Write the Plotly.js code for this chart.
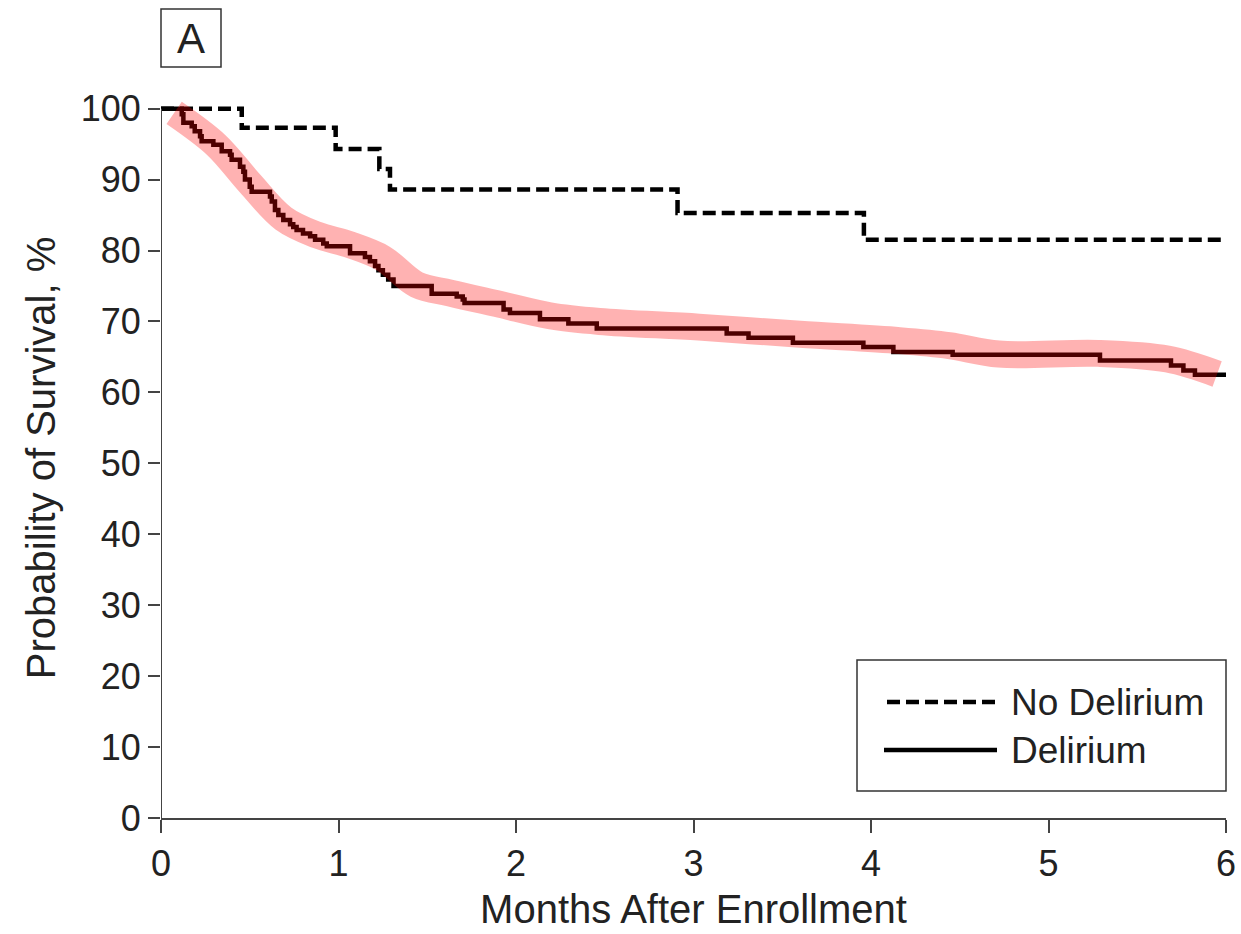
<!DOCTYPE html>
<html>
<head>
<meta charset="utf-8">
<script src="https://cdn.plot.ly/plotly-3.0.1.min.js"></script>
<style>html,body{margin:0;padding:0;background:#fff;}#chart{width:1241px;height:934px;}</style>
</head>
<body>
<div id="chart"></div>
<script>
// ---- Data ----
const noDelTime = [0, 0.455, 0.984, 1.23, 1.29, 2.91, 3.96, 6.0];
const noDelSurv = [100, 97.3, 94.3, 91.5, 88.6, 85.3, 81.5, 81.5];

const delTime = [0, 0.117, 0.126, 0.173, 0.19, 0.22, 0.229, 0.295, 0.342, 0.389, 0.398, 0.445, 0.464, 0.473, 0.50, 0.511,
  0.614, 0.624, 0.642, 0.661, 0.689, 0.727, 0.745, 0.764, 0.80, 0.84, 0.868, 0.914, 0.934, 1.065, 1.149, 1.177, 1.206,
  1.225, 1.25, 1.28, 1.31, 1.525, 1.666, 1.70, 1.71, 1.93, 1.966, 2.135, 2.295, 2.455, 3.187, 3.31, 3.56, 3.957, 4.126,
  4.46, 5.29, 5.69, 5.76, 5.825, 6.0];
const delSurv = [100, 99.2, 98.0, 97.5, 96.8, 96.1, 95.4, 94.9, 94.0, 93.5, 92.8, 91.8, 91.1, 90.0, 89.0, 88.3,
  87.6, 86.9, 85.7, 85.0, 84.3, 83.7, 83.3, 82.9, 82.4, 82.0, 81.5, 81.0, 80.6, 79.6, 79.1, 78.5, 77.8,
  77.2, 76.6, 75.9, 75.0, 73.9, 73.5, 73.1, 72.6, 71.7, 71.2, 70.3, 69.7, 69.0, 68.3, 67.7, 67.0, 66.4, 65.7,
  65.3, 64.5, 63.8, 63.1, 62.5, 62.5];

// smoothed confidence band (centre line of the shaded ribbon)
const bandTime = [0.074, 0.31, 0.50, 0.69, 0.877, 1.065, 1.25, 1.44, 1.63, 1.91, 2.19, 2.47, 3.03, 3.6, 4.16, 4.44, 4.72, 5.28, 5.67, 5.95];
const bandSurv = [99.4, 94.9, 89.5, 84.5, 82.2, 80.8, 78.9, 75.2, 74.0, 72.4, 70.8, 70.0, 69.2, 68.2, 67.3, 66.6, 65.4, 65.5, 64.7, 62.6];

const xTickVals = [0, 1, 2, 3, 4, 5, 6];
const yTickVals = [0, 10, 20, 30, 40, 50, 60, 70, 80, 90, 100];
const seriesNames = ["No Delirium", "Delirium"];
const panelLabel = "A";

// ---- Styling ----
const FONT = "Liberation Sans, Arial, Helvetica, sans-serif";
const TXT = "#222222";
const AX = "#444444";

const traces = [
  {x: noDelTime, y: noDelSurv, mode: "lines", line: {shape: "hv", color: "#000", width: 4.5, dash: "13px,6px"},
   name: seriesNames[0], showlegend: false, hoverinfo: "skip"},
  {x: delTime, y: delSurv, mode: "lines", line: {shape: "hv", color: "#000", width: 4.5},
   name: seriesNames[1], showlegend: false, hoverinfo: "skip"},
  {x: bandTime, y: bandSurv, mode: "lines", line: {shape: "spline", smoothing: 1.0, color: "rgba(255,0,0,0.3)", width: 27},
   showlegend: false, hoverinfo: "skip"}
];

// pixel -> paper helpers for legend/label decorations
const L = 161, T = 98, W = 1065, H = 720;
const px = v => (v - L) / W;
const py = v => (T + H - v) / H;

const layout = {
  width: 1241, height: 934,
  margin: {l: L, r: 1241 - L - W, t: T, b: 934 - T - H},
  paper_bgcolor: "#fff", plot_bgcolor: "#fff",
  font: {family: FONT, color: TXT, size: 36},
  showlegend: false,
  xaxis: {
    range: [0, 6], tickvals: xTickVals, ticktext: xTickVals.map(String),
    showline: true, linecolor: AX, linewidth: 2, mirror: false,
    ticks: "outside", ticklen: 13, tickwidth: 2, tickcolor: AX,
    showgrid: false, zeroline: false,
    tickfont: {size: 36, color: TXT},
    title: {text: "Months After Enrollment", font: {size: 40, color: TXT}, standoff: 12}
  },
  yaxis: {
    range: [0, 101.5], tickvals: yTickVals, ticktext: yTickVals.map(String),
    showline: false,
    ticks: "outside", ticklen: 12, tickwidth: 2, tickcolor: AX,
    showgrid: false, zeroline: false,
    tickfont: {size: 36, color: TXT},
    title: {text: "Probability of Survival, %", font: {size: 40, color: TXT}, standoff: 12}
  },
  shapes: [
    // y axis line from 0 to 100
    {type: "line", xref: "x", yref: "y", x0: 0, x1: 0, y0: 0, y1: 100, line: {color: AX, width: 2}},
    // panel label box
    {type: "rect", xref: "paper", yref: "paper", x0: px(161), x1: px(221), y0: py(67), y1: py(9),
     line: {color: "#333", width: 1.5}, fillcolor: "rgba(0,0,0,0)"},
    // legend box
    {type: "rect", xref: "paper", yref: "paper", x0: px(857), x1: px(1226), y0: py(791), y1: py(660),
     line: {color: "#333", width: 1.5}, fillcolor: "#fff"},
    {type: "line", xref: "paper", yref: "paper", x0: px(887), x1: px(997), y0: py(702), y1: py(702),
     line: {color: "#000", width: 4.5, dash: "13px,6px"}},
    {type: "line", xref: "paper", yref: "paper", x0: px(884), x1: px(997), y0: py(750), y1: py(750),
     line: {color: "#000", width: 4.5}}
  ],
  annotations: [
    {text: panelLabel, xref: "paper", yref: "paper", x: px(191), y: py(38), xanchor: "center", yanchor: "middle",
     showarrow: false, font: {size: 42, color: TXT}},
    {text: seriesNames[0], xref: "paper", yref: "paper", x: px(1009), y: py(702), xanchor: "left", yanchor: "middle",
     showarrow: false, font: {size: 37, color: TXT}},
    {text: seriesNames[1], xref: "paper", yref: "paper", x: px(1009), y: py(750), xanchor: "left", yanchor: "middle",
     showarrow: false, font: {size: 37, color: TXT}}
  ]
};

Plotly.newPlot("chart", traces, layout, {displayModeBar: false, staticPlot: true});
</script>
</body>
</html>
